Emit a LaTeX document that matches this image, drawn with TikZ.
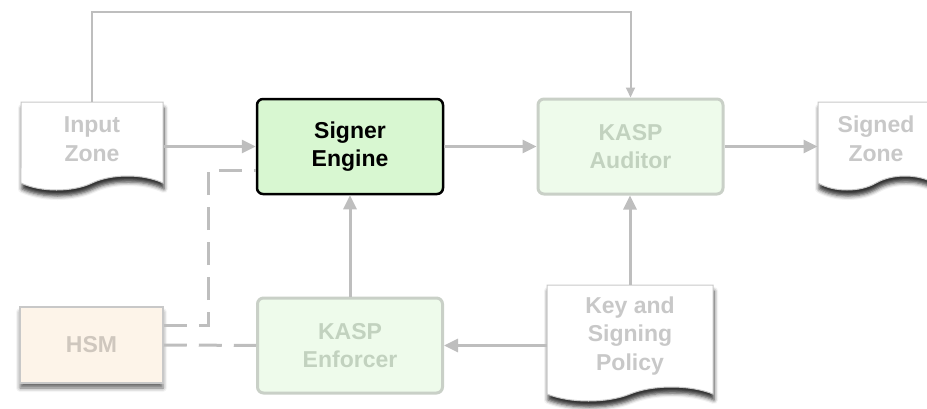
\documentclass[tikz,border=0pt]{standalone}
\usepackage{fontspec}
\setmainfont{Liberation Sans}
\usetikzlibrary{shapes.symbols, shadows.blur, arrows.meta}

\definecolor{linegray}{HTML}{BEBEBE}
\definecolor{textgray}{HTML}{C8C8C8}
\definecolor{enginefill}{HTML}{D8F7D1}
\definecolor{kaspfill}{HTML}{EEFBEB}
\definecolor{kaspline}{HTML}{C9D0C7}
\definecolor{kasptext}{HTML}{C2D2BF}
\definecolor{hsmfill}{HTML}{FDF4E9}
\definecolor{hsmtext}{HTML}{CFC7BE}

\tikzstyle{boxfont} = [align=center, font=\fontsize{23}{28.5}\selectfont\bfseries]
\tikzstyle{engine} = [rectangle, rounded corners=6pt, minimum width=186pt, minimum height=95pt, draw=black, line width=2.5pt, fill=enginefill, text=black, boxfont]
\tikzstyle{kasp} = [rectangle, rounded corners=6pt, minimum width=185pt, minimum height=95pt, draw=kaspline, line width=3pt, fill=kaspfill, text=kasptext, boxfont]
\tikzstyle{zone} = [tape, tape bend top=none, tape bend bottom=in and out, tape bend height=14pt, draw=textgray, line width=1pt, fill=white, text=textgray, boxfont, blur shadow={shadow xshift=1pt, shadow yshift=-6pt, shadow blur radius=4pt, shadow opacity=80}]
\tikzstyle{hsmbox} = [rectangle, minimum width=143pt, minimum height=76pt, draw=textgray, line width=1.5pt, fill=hsmfill, text=hsmtext, boxfont, blur shadow={shadow xshift=0pt, shadow yshift=-5pt, shadow blur radius=4pt, shadow opacity=60}]
\tikzstyle{arrow} = [line width=3pt, draw=linegray, -{Triangle[length=14pt,width=13pt]}]
\tikzstyle{thinarrow} = [line width=2pt, draw=linegray, -{Triangle[length=10pt,width=9pt]}]
\tikzstyle{dashline} = [line width=3pt, draw=linegray, dash pattern=on 23pt off 12pt]

\begin{document}
\begin{tikzpicture}[x=1pt, y=-1pt]
    \useasboundingbox (0,0) rectangle (927,408);

    \node [zone, minimum width=142pt, minimum height=88pt] at (92,139) (inzone) {Input\\Zone};
    \node [engine] at (350,146.5) (signer) {Signer\\Engine};
    \node [kasp] at (630.5,146.5) (auditor) {KASP\\Auditor};
    \node [zone, minimum width=116pt, minimum height=88pt] at (876,139) (signed) {Signed\\Zone};
    \node [hsmbox] at (91.5,345) (hsm) {HSM};
    \node [kasp] at (350,345.5) (enforcer) {KASP\\Enforcer};
    \node [zone, minimum width=166pt, minimum height=116pt] at (630,336) (policy) {Key and\\Signing\\Policy};

    % data path
    \draw [thinarrow] (inzone.north) -- ++(0,-90) -| (auditor.north);
    \draw [arrow] (inzone.east |- signer.west) -- (signer.west);
    \draw [arrow] (signer) -- (auditor);
    \draw [arrow] (auditor.east) -- (signed.west |- auditor.east);
    \draw [arrow] (enforcer) -- (signer);
    \draw [arrow] (policy.north) -- (policy.north |- auditor.south);
    \draw [arrow] (policy.west |- enforcer.east) -- (enforcer.east);

    % key store links
    \draw [dashline] ([yshift=20pt]hsm.east) -| ([xshift=-47pt,yshift=-23.5pt]signer.west) -- ([yshift=-23.5pt]signer.west);
    \draw [dashline] (hsm) -- (enforcer);
\end{tikzpicture}
\end{document}
